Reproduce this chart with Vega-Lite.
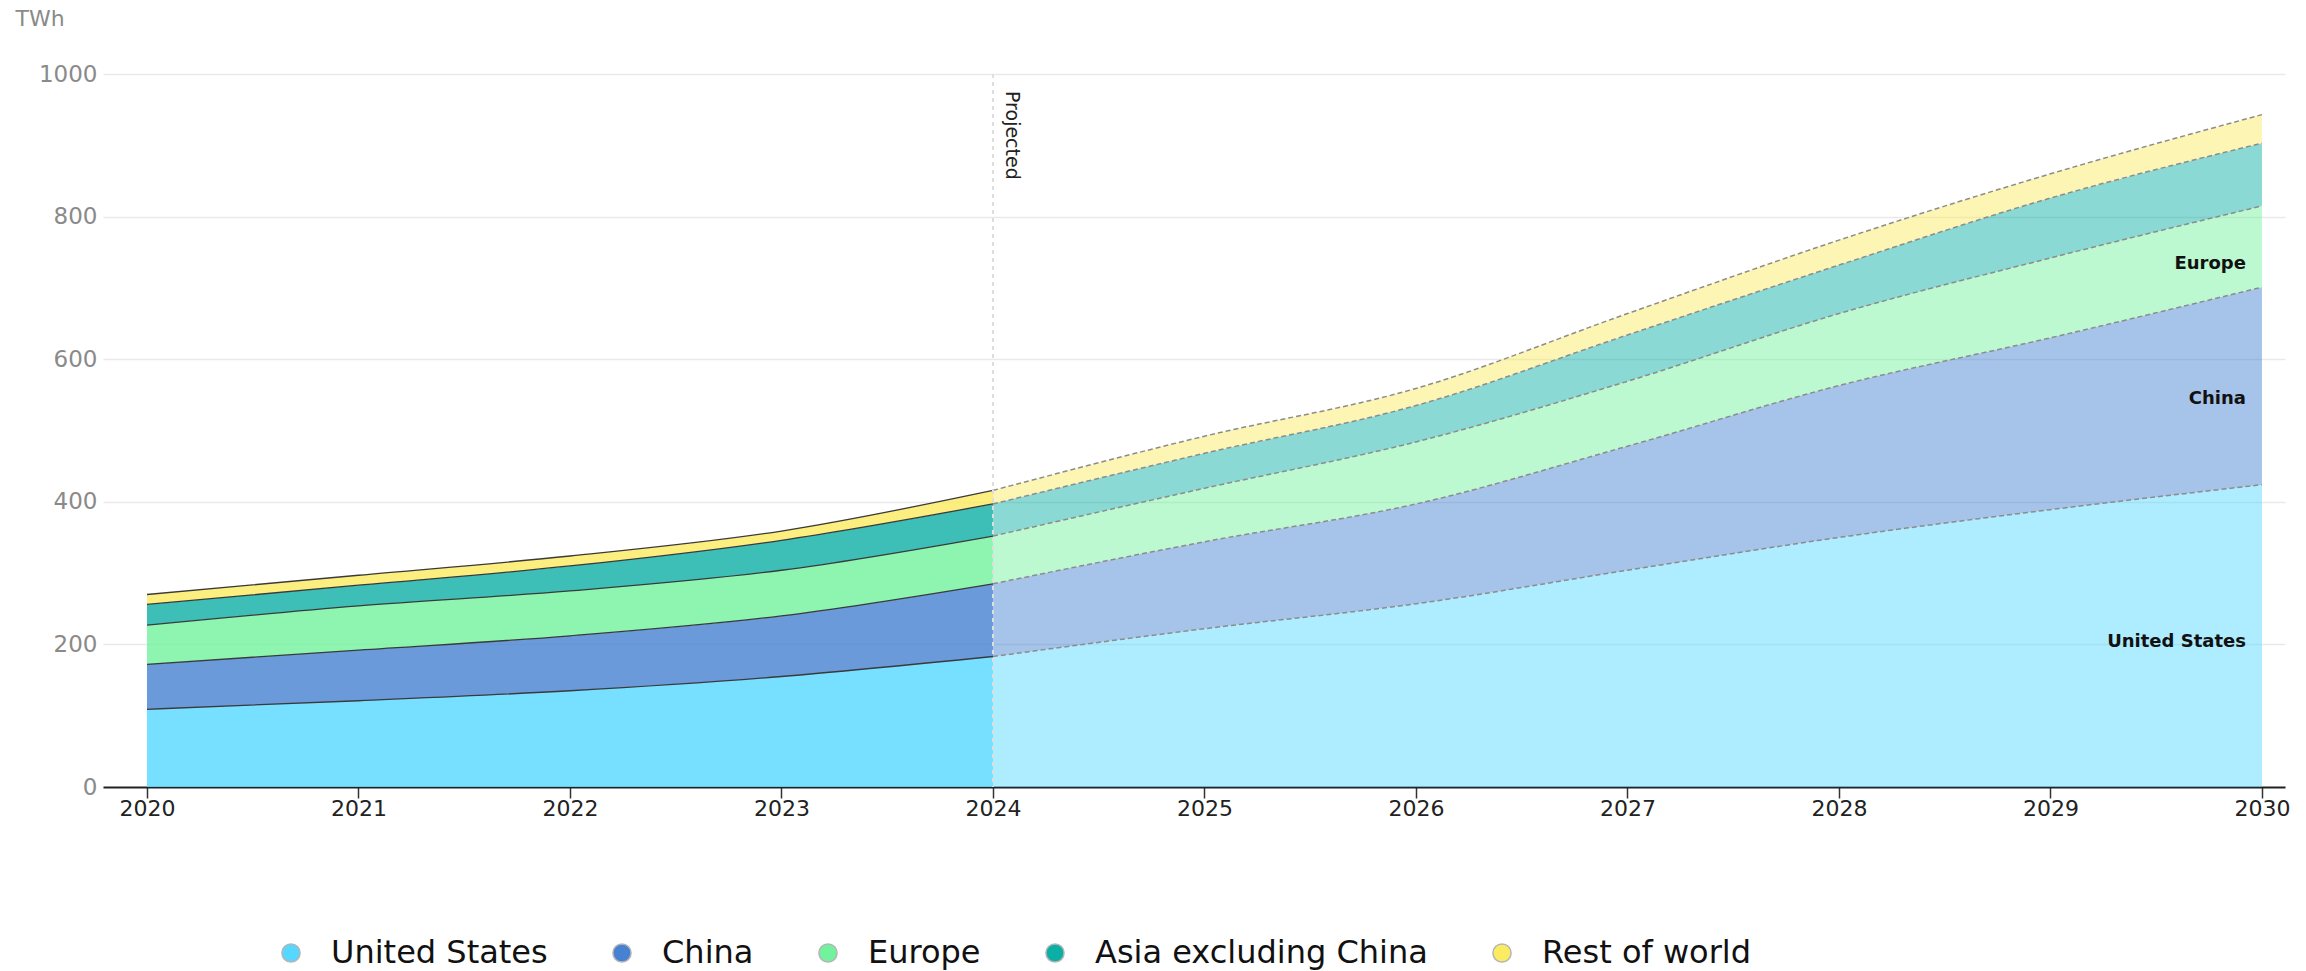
{
  "$schema": "https://vega.github.io/schema/vega-lite/v6.json",
  "width": 2182,
  "height": 713,
  "autosize": {"type": "none"},
  "padding": {"left": 103, "top": 74, "right": 21, "bottom": 184},
  "background": "white",
  "config": {"view": {"stroke": null}, "font": "DejaVu Sans"},
  "data": {
    "values": [
      {"year": 2020, "region": "United States", "twh": 109},
      {"year": 2020, "region": "China", "twh": 63},
      {"year": 2020, "region": "Europe", "twh": 55},
      {"year": 2020, "region": "Asia excluding China", "twh": 29},
      {"year": 2020, "region": "Rest of world", "twh": 14},
      {"year": 2021, "region": "United States", "twh": 121},
      {"year": 2021, "region": "China", "twh": 71},
      {"year": 2021, "region": "Europe", "twh": 62},
      {"year": 2021, "region": "Asia excluding China", "twh": 29},
      {"year": 2021, "region": "Rest of world", "twh": 14},
      {"year": 2022, "region": "United States", "twh": 135},
      {"year": 2022, "region": "China", "twh": 77},
      {"year": 2022, "region": "Europe", "twh": 63},
      {"year": 2022, "region": "Asia excluding China", "twh": 35},
      {"year": 2022, "region": "Rest of world", "twh": 14},
      {"year": 2023, "region": "United States", "twh": 155},
      {"year": 2023, "region": "China", "twh": 85},
      {"year": 2023, "region": "Europe", "twh": 64},
      {"year": 2023, "region": "Asia excluding China", "twh": 42},
      {"year": 2023, "region": "Rest of world", "twh": 13},
      {"year": 2024, "region": "United States", "twh": 183},
      {"year": 2024, "region": "China", "twh": 102},
      {"year": 2024, "region": "Europe", "twh": 67},
      {"year": 2024, "region": "Asia excluding China", "twh": 45},
      {"year": 2024, "region": "Rest of world", "twh": 19},
      {"year": 2025, "region": "United States", "twh": 222},
      {"year": 2025, "region": "China", "twh": 122},
      {"year": 2025, "region": "Europe", "twh": 75},
      {"year": 2025, "region": "Asia excluding China", "twh": 49},
      {"year": 2025, "region": "Rest of world", "twh": 24},
      {"year": 2026, "region": "United States", "twh": 257},
      {"year": 2026, "region": "China", "twh": 140},
      {"year": 2026, "region": "Europe", "twh": 87},
      {"year": 2026, "region": "Asia excluding China", "twh": 51},
      {"year": 2026, "region": "Rest of world", "twh": 24},
      {"year": 2027, "region": "United States", "twh": 304},
      {"year": 2027, "region": "China", "twh": 174},
      {"year": 2027, "region": "Europe", "twh": 91},
      {"year": 2027, "region": "Asia excluding China", "twh": 65},
      {"year": 2027, "region": "Rest of world", "twh": 30},
      {"year": 2028, "region": "United States", "twh": 350},
      {"year": 2028, "region": "China", "twh": 213},
      {"year": 2028, "region": "Europe", "twh": 101},
      {"year": 2028, "region": "Asia excluding China", "twh": 68},
      {"year": 2028, "region": "Rest of world", "twh": 35},
      {"year": 2029, "region": "United States", "twh": 389},
      {"year": 2029, "region": "China", "twh": 241},
      {"year": 2029, "region": "Europe", "twh": 112},
      {"year": 2029, "region": "Asia excluding China", "twh": 84},
      {"year": 2029, "region": "Rest of world", "twh": 34},
      {"year": 2030, "region": "United States", "twh": 424},
      {"year": 2030, "region": "China", "twh": 277},
      {"year": 2030, "region": "Europe", "twh": 114},
      {"year": 2030, "region": "Asia excluding China", "twh": 88},
      {"year": 2030, "region": "Rest of world", "twh": 40}
    ]
  },
  "transform": [
    {"calculate": "indexof(['United States','China','Europe','Asia excluding China','Rest of world'], datum.region)", "as": "rank"},
    {"stack": "twh", "groupby": ["year"], "sort": [{"field": "rank", "order": "ascending"}], "as": ["y0", "y1"]}
  ],
  "layer": [
    {
      "transform": [{"filter": "datum.year <= 2024"}],
      "mark": {"type": "area", "interpolate": "monotone", "opacity": 0.8},
      "encoding": {
        "x": {
          "field": "year", "type": "quantitative",
          "scale": {"domain": [2019.792, 2030.109], "nice": false, "zero": false},
          "axis": {
            "title": null, "values": [2020, 2021, 2022, 2023, 2024, 2025, 2026, 2027, 2028, 2029, 2030],
            "format": "d", "grid": false, "labelFlush": false,
            "domainColor": "#222222", "domainWidth": 2,
            "tickColor": "#333333", "tickWidth": 1.5, "tickSize": 11,
            "labelFont": "DejaVu Sans", "labelFontSize": 22, "labelColor": "#222222", "labelPadding": 0
          }
        },
        "y": {
          "field": "y1", "type": "quantitative",
          "scale": {"domain": [0, 1000], "nice": false},
          "axis": {
            "title": "TWh", "titleAngle": 0, "titleX": -88, "titleY": -56, "titleAlign": "left", "titleBaseline": "middle",
            "titleFont": "DejaVu Sans", "titleFontSize": 22, "titleFontWeight": "normal", "titleColor": "#8a8a8a",
            "values": [0, 200, 400, 600, 800, 1000], "format": "d", "grid": true, "gridColor": "#e9e9e9", "gridWidth": 1.5,
            "domain": false, "ticks": false, "tickSize": 0, "labelPadding": 6,
            "labelFont": "DejaVu Sans", "labelFontSize": 23, "labelColor": "#8a8a8a"
          }
        },
        "y2": {"field": "y0"},
        "color": {
          "field": "region", "type": "nominal", "title": null,
          "scale": {
            "domain": ["United States", "China", "Europe", "Asia excluding China", "Rest of world"],
            "range": ["#55d7ff", "#4681d2", "#72f29c", "#0cafa6", "#fbeb60"]
          },
          "legend": {
            "orient": "none", "legendX": 172, "legendY": 863, "direction": "horizontal", "columns": 5,
            "columnPadding": 58, "padding": 0, "labelFont": "DejaVu Sans", "labelFontSize": 32, "labelColor": "#111111",
            "labelOffset": 24, "labelLimit": 600, "symbolType": "circle", "symbolSize": 330,
            "symbolStrokeColor": "#b5b5b5", "symbolStrokeWidth": 1.5, "symbolOpacity": 1,
            "encode": {"symbols": {"update": {"opacity": {"value": 1}}}}
          }
        }
      }
    },
    {
      "transform": [{"filter": "datum.year >= 2024"}],
      "mark": {"type": "area", "interpolate": "monotone", "opacity": 0.48},
      "encoding": {
        "x": {"field": "year", "type": "quantitative"},
        "y": {"field": "y1", "type": "quantitative"},
        "y2": {"field": "y0"},
        "color": {
          "field": "region", "type": "nominal", "title": null,
          "legend": {
            "orient": "none", "legendX": 172, "legendY": 863, "direction": "horizontal", "columns": 5,
            "columnPadding": 58, "padding": 0, "labelFont": "DejaVu Sans", "labelFontSize": 32, "labelColor": "#111111",
            "labelOffset": 24, "labelLimit": 600, "symbolType": "circle", "symbolSize": 330,
            "symbolStrokeColor": "#b5b5b5", "symbolStrokeWidth": 1.5, "symbolOpacity": 1,
            "encode": {"symbols": {"update": {"opacity": {"value": 1}}}}
          }
        }
      }
    },
    {
      "transform": [{"filter": "datum.year <= 2024"}],
      "mark": {"type": "line", "interpolate": "monotone", "color": "#3a3a3a", "strokeWidth": 1.3},
      "encoding": {
        "x": {"field": "year", "type": "quantitative"},
        "y": {"field": "y1", "type": "quantitative"},
        "detail": {"field": "region"}
      }
    },
    {
      "transform": [{"filter": "datum.year >= 2024"}],
      "mark": {"type": "line", "interpolate": "monotone", "color": "#8c8c8c", "strokeWidth": 1.5, "strokeDash": [5, 3]},
      "encoding": {
        "x": {"field": "year", "type": "quantitative"},
        "y": {"field": "y1", "type": "quantitative"},
        "detail": {"field": "region"}
      }
    },
    {
      "transform": [{"filter": "datum.year == 2024 && datum.rank == 0"}],
      "mark": {"type": "rule", "color": "#dedede", "strokeWidth": 2, "strokeDash": [4, 4]},
      "encoding": {
        "x": {"field": "year", "type": "quantitative"}
      }
    },
    {
      "transform": [{"filter": "datum.year == 2024 && datum.rank == 0"}],
      "mark": {"type": "text", "angle": 90, "align": "left", "baseline": "middle", "dx": 17, "dy": -19,
               "font": "DejaVu Sans", "fontSize": 19, "color": "#222222"},
      "encoding": {
        "x": {"field": "year", "type": "quantitative"},
        "y": {"datum": 1000, "type": "quantitative"},
        "text": {"value": "Projected"}
      }
    },
    {
      "transform": [
        {"filter": "datum.year >= 2029 && datum.rank <= 2"},
        {"calculate": "(datum.y0 + datum.y1) / 2", "as": "mid"},
        {"pivot": "year", "value": "mid", "groupby": ["region"]},
        {"calculate": "0.3 * datum['2029'] + 0.7 * datum['2030']", "as": "labelY"}
      ],
      "mark": {"type": "text", "align": "right", "baseline": "middle", "dx": -16, "dy": 2,
               "font": "DejaVu Sans", "fontSize": 18, "fontWeight": "bold", "color": "#111111"},
      "encoding": {
        "x": {"datum": 2030, "type": "quantitative"},
        "y": {"field": "labelY", "type": "quantitative"},
        "text": {"field": "region"}
      }
    }
  ]
}
